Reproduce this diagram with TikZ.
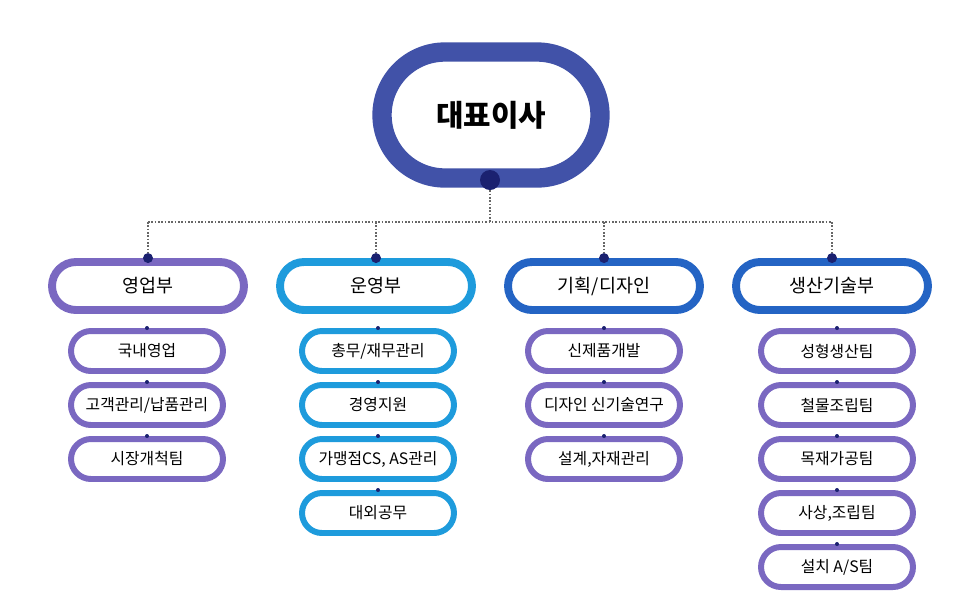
\documentclass[tikz,border=0pt]{standalone}
\usepackage{fontspec}
\setmainfont{Noto Sans CJK KR}
\usetikzlibrary{positioning}
\definecolor{ceo}{HTML}{4152A8}
\definecolor{navy}{HTML}{1B2170}
\definecolor{violet}{HTML}{7A68C1}
\definecolor{sky}{HTML}{1E9BDC}
\definecolor{royal}{HTML}{2464C4}
\tikzset{
  ceobox/.style={draw=ceo, line width=11pt, rounded corners=1.26cm, minimum width=4.36cm, minimum height=2.52cm, font=\fontsize{17}{20}\selectfont\bfseries},
  headbox/.style={draw=#1, line width=4.5pt, rounded corners=0.48cm, minimum width=3.84cm, minimum height=0.96cm, font=\fontsize{10.5}{12}\selectfont},
  subbox/.style={draw=#1, line width=3.4pt, rounded corners=0.4cm, minimum width=3.04cm, minimum height=0.8cm, font=\fontsize{9}{11}\selectfont},
  dot/.style={circle, fill=navy, inner sep=0pt, minimum size=#1},
  link/.style={densely dotted, line width=0.9pt, gray!80!black}
}
\begin{document}
\begin{tikzpicture}[x=0.02cm,y=-0.02cm]
\useasboundingbox (0,0) rectangle (980,600);
% top
\node[ceobox] (CEO) at (491,115) {대표이사};
\node[dot=0.4cm] (CEOdot) at (490,180) {};
\coordinate (J) at (490,222);
\draw[link] (CEOdot) -- (J);
% departments
\node[headbox=violet] (H1) at (148,286) {영업부};
\node[headbox=sky] (H2) at (376,286) {운영부};
\node[headbox=royal] (H3) at (604,286) {기획/디자인};
\node[headbox=royal] (H4) at (832,286) {생산기술부};
\foreach \i in {1,...,4}{
  \node[dot=0.2cm] (D\i) at (H\i.north) {};
  \coordinate (T\i) at (D\i |- J);
  \draw[link] (T\i) -- (D\i);
}
\draw[link] (T1) -- (T4);
% teams
\foreach \t [count=\k] in {국내영업, 고객관리/납품관리, 시장개척팀}{
  \node[subbox=violet] (A\k) at (147,{351+54*(\k-1)}) {\t};
  \node[dot=0.08cm] at (A\k.north) {};
}
\foreach \t [count=\k] in {총무/재무관리, 경영지원, 가맹점CS{,} AS관리, 대외공무}{
  \node[subbox=sky] (B\k) at (378,{351+54*(\k-1)}) {\t};
  \node[dot=0.08cm] at (B\k.north) {};
}
\foreach \t [count=\k] in {신제품개발, 디자인 신기술연구, 설계{,}자재관리}{
  \node[subbox=violet] (C\k) at (604,{351+54*(\k-1)}) {\t};
  \node[dot=0.08cm] at (C\k.north) {};
}
\foreach \t [count=\k] in {성형생산팀, 철물조립팀, 목재가공팀, 사상{,}조립팀, 설치 A/S팀}{
  \node[subbox=violet] (E\k) at (837,{351+54*(\k-1)}) {\t};
  \node[dot=0.08cm] at (E\k.north) {};
}
\end{tikzpicture}
\end{document}
